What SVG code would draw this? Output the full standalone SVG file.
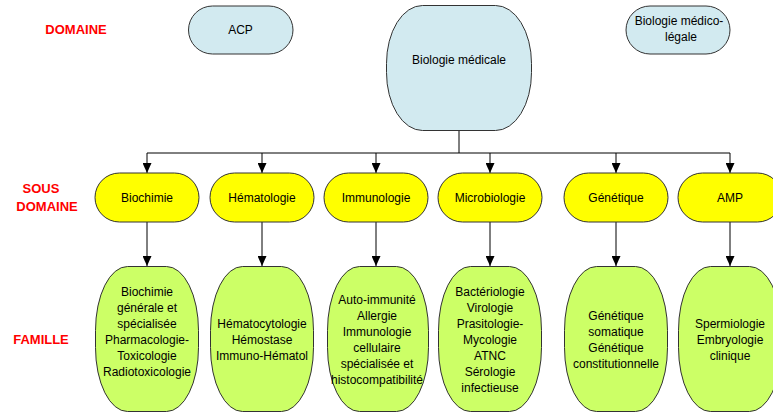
<svg xmlns="http://www.w3.org/2000/svg" width="773" height="414" viewBox="0 0 773 414">
<defs>
<marker id="arr" markerWidth="10" markerHeight="9" refX="10" refY="4.5" orient="auto" markerUnits="userSpaceOnUse" viewBox="0 0 10 9">
<path d="M0,0 L10,4.5 L0,9 Z" fill="#000"/>
</marker>
</defs>
<style>
text{font-family:"Liberation Sans",Arial,sans-serif;font-size:12px;fill:#000;text-anchor:middle}
.lbl{font-weight:bold;font-size:13px;fill:#ff0000}
.blue{fill:#d2eaf0;stroke:#333;stroke-width:1}
.yel{fill:#ffff00;stroke:#333;stroke-width:1}
.grn{fill:#ccff66;stroke:#333;stroke-width:1}
.c{fill:none;stroke:#000;stroke-width:1}
.ca{fill:none;stroke:#000;stroke-width:1;marker-end:url(#arr)}
</style>
<rect width="773" height="414" fill="#fff"/>
<g id="labels">
<text class="lbl" x="76" y="34">DOMAINE</text>
<text class="lbl" x="41" y="193">SOUS</text>
<text class="lbl" x="47" y="211">DOMAINE</text>
<text class="lbl" x="41" y="344">FAMILLE</text>
</g>
<g id="connectors">
<path class="c" d="M459,130 V153 M147,153 H730"/>
<path class="ca" d="M147,153 V173"/>
<path class="ca" d="M262,153 V173"/>
<path class="ca" d="M376,153 V173"/>
<path class="ca" d="M490,153 V173"/>
<path class="ca" d="M616,153 V173"/>
<path class="ca" d="M730,153 V173"/>
<path class="ca" d="M147,222 V266"/>
<path class="ca" d="M262,222 V266"/>
<path class="ca" d="M376,222 V266"/>
<path class="ca" d="M490,222 V266"/>
<path class="ca" d="M616,222 V266"/>
<path class="ca" d="M730,222 V266"/>
</g>
<g id="acp">
<rect class="blue" x="188.5" y="6" width="104.5" height="48" rx="24" ry="24"/>
<text x="240.5" y="33.5">ACP</text>
</g>
<g id="biologie-medicale">
<rect class="blue" x="386.5" y="5.5" width="145" height="125" rx="36" ry="58"/>
<text x="459" y="64">Biologie médicale</text>
</g>
<g id="biologie-medico-legale">
<rect class="blue" x="626" y="6" width="104" height="48" rx="24" ry="24"/>
<text x="679" y="25">Biologie médico-</text>
<text x="681" y="41">légale</text>
</g>
<g id="biochimie">
<rect class="yel" x="95" y="173" width="104" height="49" rx="24.5" ry="24.5"/>
<text x="147" y="201.5">Biochimie</text>
</g>
<g id="hematologie">
<rect class="yel" x="210" y="173" width="104" height="49" rx="24.5" ry="24.5"/>
<text x="262" y="201.5">Hématologie</text>
</g>
<g id="immunologie">
<rect class="yel" x="324" y="173" width="104" height="49" rx="24.5" ry="24.5"/>
<text x="376" y="201.5">Immunologie</text>
</g>
<g id="microbiologie">
<rect class="yel" x="438" y="173" width="104" height="49" rx="24.5" ry="24.5"/>
<text x="490" y="201.5">Microbiologie</text>
</g>
<g id="genetique">
<rect class="yel" x="564" y="173" width="104" height="49" rx="24.5" ry="24.5"/>
<text x="616" y="201.5">Génétique</text>
</g>
<g id="amp">
<rect class="yel" x="678" y="173" width="104" height="49" rx="24.5" ry="24.5"/>
<text x="730" y="201.5">AMP</text>
</g>
<g id="fam-biochimie">
<rect class="grn" x="95.5" y="266.5" width="103" height="145" rx="32" ry="64"/>
<text x="147" y="296">Biochimie</text>
<text x="147" y="312">générale et</text>
<text x="147" y="328">spécialisée</text>
<text x="147" y="344">Pharmacologie-</text>
<text x="147" y="360">Toxicologie</text>
<text x="147" y="376">Radiotoxicologie</text>
</g>
<g id="fam-hematologie">
<rect class="grn" x="210.5" y="266.5" width="103" height="145" rx="32" ry="64"/>
<text x="262" y="328">Hématocytologie</text>
<text x="262" y="344">Hémostase</text>
<text x="262" y="360">Immuno-Hématol</text>
</g>
<g id="fam-immunologie">
<rect class="grn" x="327.5" y="266.5" width="101" height="145" rx="32" ry="64"/>
<text x="377" y="304">Auto-immunité</text>
<text x="377" y="320">Allergie</text>
<text x="377" y="336">Immunologie</text>
<text x="377" y="352">cellulaire</text>
<text x="377" y="368">spécialisée et</text>
<text x="377" y="384">histocompatibilité</text>
</g>
<g id="fam-microbiologie">
<rect class="grn" x="438.5" y="266.5" width="103" height="145" rx="32" ry="64"/>
<text x="490" y="296">Bactériologie</text>
<text x="490" y="312">Virologie</text>
<text x="490" y="328">Prasitologie-</text>
<text x="490" y="344">Mycologie</text>
<text x="490" y="360">ATNC</text>
<text x="490" y="376">Sérologie</text>
<text x="490" y="392">infectieuse</text>
</g>
<g id="fam-genetique">
<rect class="grn" x="564.5" y="266.5" width="103" height="145" rx="32" ry="64"/>
<text x="616" y="320">Génétique</text>
<text x="616" y="336">somatique</text>
<text x="616" y="352">Génétique</text>
<text x="616" y="368">constitutionnelle</text>
</g>
<g id="fam-amp">
<rect class="grn" x="678.5" y="266.5" width="103" height="145" rx="32" ry="64"/>
<text x="730" y="328">Spermiologie</text>
<text x="730" y="344">Embryologie</text>
<text x="730" y="360">clinique</text>
</g>
</svg>
